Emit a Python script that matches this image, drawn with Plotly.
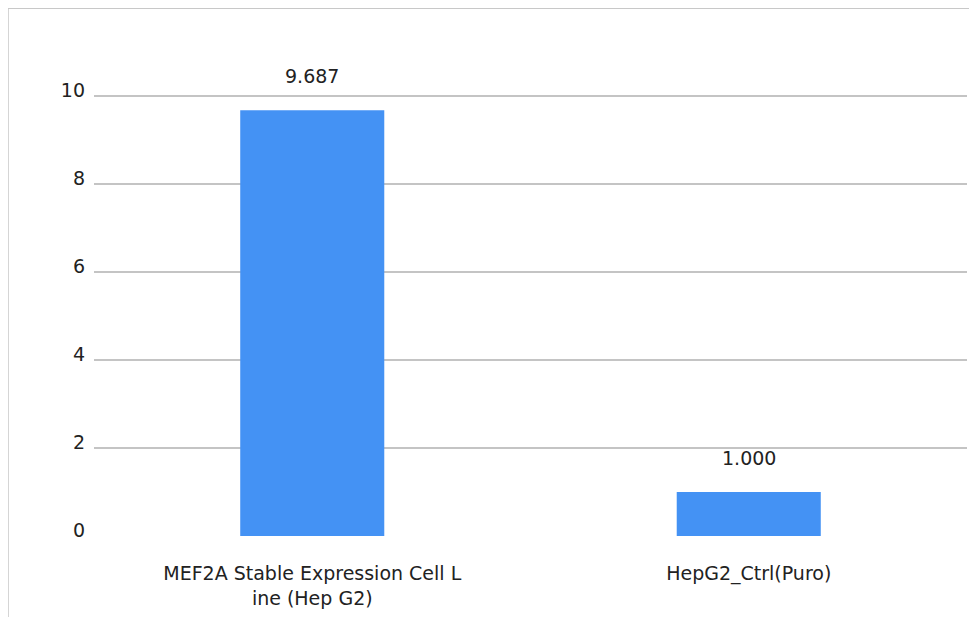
import plotly.graph_objects as go

categories = ["MEF2A Stable Expression Cell L<br>ine (Hep G2)", "HepG2_Ctrl(Puro)"]
values = [9.687, 1.000]
value_labels = ["9.687", "1.000"]
y_ticks = [0, 2, 4, 6, 8, 10]

fig = go.Figure()
fig.add_trace(go.Bar(x=categories, y=values, marker=dict(color="#4492F4", line=dict(width=0)),
                     showlegend=False, hoverinfo="skip"))

for c, v, t in zip(categories, values, value_labels):
    fig.add_annotation(x=c, y=v, text=t, showarrow=False, yshift=34,
                       font=dict(family="DejaVu Sans", size=19, color="#222222"))

fig.add_shape(type="rect", xref="paper", yref="paper", x0=-0.0985, x1=1.2, y0=-0.4, y1=1.1888,
              line=dict(color="#c8c8c8", width=1.5), fillcolor="rgba(0,0,0,0)", layer="below")

fig.update_layout(
    width=977, height=617,
    margin=dict(l=86, r=18, t=84, b=89),
    paper_bgcolor="white", plot_bgcolor="white",
    bargap=0.67,
    font=dict(family="DejaVu Sans", size=19, color="#222222"),
    xaxis=dict(showgrid=False, showline=False, zeroline=False, ticks="", ticklabelstandoff=24,
               tickfont=dict(size=19)),
    yaxis=dict(range=[0, 10.1], tickvals=y_ticks, showgrid=True, gridcolor="#c4c4c4", gridwidth=2,
               zeroline=False, showline=False, ticks="", ticklabelstandoff=8, ticklabelshift=-6,
               tickfont=dict(size=19)),
)

fig.write_html("out.html")
